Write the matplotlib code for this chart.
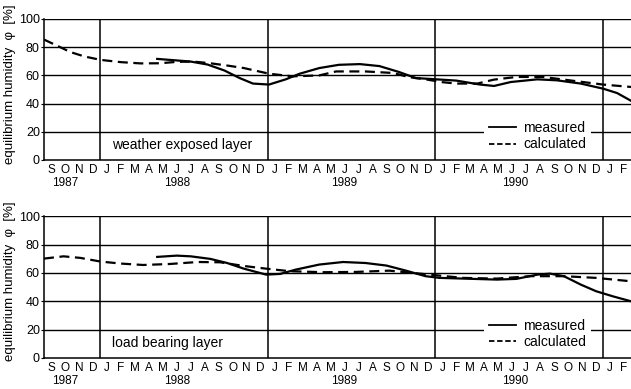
import matplotlib.pyplot as plt
from matplotlib.lines import Line2D

# months counted from the start of September 1987
month_letters = ["S", "O", "N", "D"] + ["J", "F", "M", "A", "M", "J", "J", "A", "S", "O", "N", "D"] * 3 + ["J", "F"]
years = ["1987", "1988", "1989", "1990"]

# weather exposed layer
top_calc_m = [0, 0.95, 1.9, 2.9, 4.05, 5.5, 6.9, 8.3, 9.5, 10.7, 11.9, 13.1, 14.3, 16.1, 17.8,
              19.7, 20.9, 23.0, 25.0, 26.1, 27.3, 28.5, 29.5, 31.0, 32.2, 33.8, 35.7, 37.6, 40.0, 42]
top_calc = [85.4, 81, 76.5, 73.4, 71, 69.4, 68.5, 68.6, 69.6, 69.8, 68.6, 67.0, 65.2, 61.2, 59.3,
            60, 62.8, 62.8, 61.7, 58.8, 57.2, 55.2, 54.2, 54.2, 57, 58.9, 58.9, 56.5, 53.5, 51.8]
top_meas_m = [8.1, 9.5, 10.5, 11.7, 12.9, 14.0, 14.95, 16.1, 17.3, 18.3, 19.7, 21.1, 22.6, 24.0,
              25.4, 26.6, 27.6, 29.5, 31.2, 32.2, 33.4, 35.3, 36.7, 38.4, 40.0, 41.0, 42]
top_meas = [71.7, 70.6, 69.8, 67.7, 63.5, 58.1, 54.2, 53.5, 57.2, 61.2, 65.2, 67.5, 68.0, 66.6,
            62.4, 58.1, 57.5, 56.3, 53.5, 52.5, 55.3, 57.2, 56.5, 54.2, 50.6, 47.5, 42]

# load bearing layer
bot_calc_m = [0, 1.4, 2.6, 4.05, 5.5, 7.1, 9.0, 11.0, 12.6, 14.3, 15.9, 17.6, 20.0, 22.3, 24.7,
              26.4, 28.3, 30.0, 32.4, 34.8, 37.2, 39.5, 42]
bot_calc = [70.1, 71.7, 70.6, 68, 66.6, 65.6, 66.3, 67.7, 67.5, 64.9, 63, 61.2, 60.5, 60.7, 61.6,
            60, 58.1, 56.5, 56, 57.7, 57.7, 56.5, 54.1]
bot_meas_m = [8.1, 9.5, 10.5, 11.9, 13.1, 14.3, 15.9, 16.9, 18.0, 19.7, 21.4, 23.0, 24.5, 25.9,
              27.3, 28.3, 30.0, 32.4, 33.8, 35.3, 36.2, 37.2, 38.4, 39.5, 40.7, 42]
bot_meas = [71.3, 72.2, 71.7, 69.9, 67, 63, 58.8, 59.3, 62.3, 65.9, 67.7, 67, 65.2, 61.6,
            57.7, 56.5, 56, 55.3, 55.8, 58.8, 59.5, 57.7, 51.8, 47.1, 43.5, 40]

plt.rcParams["font.family"] = ["Liberation Sans", "DejaVu Sans"]

fig = plt.figure(figsize=(6.31, 3.89), dpi=100)
ax_top = fig.add_axes([0.0697, 0.5887, 0.9303, 0.3625])
ax_bot = fig.add_axes([0.0697, 0.0797, 0.9303, 0.3645])


def draw_panel(ax, calc_m, calc, meas_m, meas, title):
    ax.set_xlim(0, 42)
    ax.set_ylim(0, 100)
    for v in [20, 40, 60, 80, 100]:
        ax.axhline(v, color="black", lw=1.0, zorder=1)
    for m in [4, 16, 28, 40]:
        ax.axvline(m, color="black", lw=1.1, zorder=1)
    ax.plot(calc_m, calc, color="black", lw=1.6, ls=(0, (4.5, 2.5)), zorder=3)
    ax.plot(meas_m, meas, color="black", lw=1.6, zorder=3)

    ax.spines["top"].set_visible(False)
    ax.spines["right"].set_visible(False)
    ax.spines["left"].set_linewidth(1.1)
    ax.spines["bottom"].set_linewidth(1.1)

    ax.set_yticks([0, 20, 40, 60, 80, 100])
    ax.set_yticklabels(["0", "20", "40", "60", "80", "100"], fontsize=9)
    ax.tick_params(axis="y", length=2, pad=1)
    ax.set_xticks([i + 0.5 for i in range(len(month_letters))])
    ax.set_xticklabels(month_letters, fontsize=8.5)
    ax.tick_params(axis="x", length=0, pad=3)

    for yr, m in zip(years, [1.5, 9.5, 21.5, 33.7]):
        ax.annotate(yr, xy=(m, 0), xycoords=ax.get_xaxis_transform(),
                    xytext=(0, -16.5), textcoords="offset points",
                    ha="center", va="center", fontsize=8.5)

    ax.text(4.9, 10.5, title, fontsize=10, va="center", ha="left")
    ax.set_ylabel("equilibrium humidity  φ  [%]", fontsize=9.5)
    ax.yaxis.set_label_coords(-0.047, 0.54)

    handles = [Line2D([], [], color="black", lw=1.3),
               Line2D([], [], color="black", lw=1.3, ls=(0, (3, 1.5)))]
    leg = ax.legend(handles, ["measured", "calculated"], loc="center",
                    bbox_to_anchor=(35.3 / 42, 17.0 / 100), frameon=True, fontsize=10,
                    handlelength=2.0, handletextpad=0.5, labelspacing=0.2,
                    borderpad=0.35, borderaxespad=0, fancybox=False)
    leg.get_frame().set_facecolor("white")
    leg.get_frame().set_edgecolor("none")
    leg.get_frame().set_alpha(1)
    leg.set_zorder(5)


draw_panel(ax_top, top_calc_m, top_calc, top_meas_m, top_meas, "weather exposed layer")
draw_panel(ax_bot, bot_calc_m, bot_calc, bot_meas_m, bot_meas, "load bearing layer")

fig.savefig("out.png", dpi=100)
plt.close()
